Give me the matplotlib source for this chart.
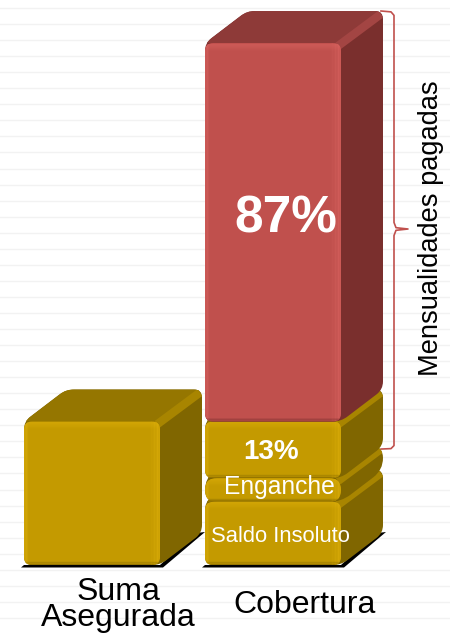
import numpy as np
import matplotlib
matplotlib.use('Agg')
import matplotlib.pyplot as plt
from matplotlib.path import Path
from matplotlib.patches import PathPatch, Polygon

plt.rcParams['font.family'] = ['Liberation Sans', 'DejaVu Sans']

categories = ['Suma\nAsegurada', 'Cobertura']
suma_value = 33
saldo_value = 14.5
enganche_value = 5.5
pct_13 = 13
pct_87 = 87

# front, top, side, highlight, edge shade, diagonal bevel
GOLD = ('#c49a00', '#957600', '#806600', '#e0b20c', '#6e5600', '#a88500')
RED = ('#c0504d', '#8e3a38', '#7a2f2d', '#dc6662', '#6e2a28', '#a34543')

# one value unit is 4.35 px high, one category step is 181 px wide
SX, SY = 181.0, 4.35
WIDTH = 136 / SX
DX, DY = 42 / SX, 32 / SY

fig = plt.figure(figsize=(4.5, 6.35), dpi=100)
ax = fig.add_axes([0, 0, 1, 1])
ax.set_xlim(-92 / SX, (450 - 92) / SX)
ax.set_ylim(-70 / SY, 565 / SY)
for s in ax.spines.values():
    s.set_visible(False)
ax.set_xticks([])
ax.set_yticks((565 - (8 + 16.05 * np.arange(39))) / SY)
ax.tick_params(length=0, labelleft=False)
ax.grid(axis='y', color='#f2f2f2', lw=1)
ax.set_axisbelow(True)


def rounded(pts, r, **kw):
    # closed polygon with quadratic corners, radius given in pixels
    pts = [np.array(p, dtype=float) for p in pts]
    scale = np.array([SX, SY])
    verts, codes = [], []
    n = len(pts)
    for i in range(n):
        p, a, b = pts[i], pts[i - 1], pts[(i + 1) % n]
        la = np.linalg.norm((a - p) * scale)
        lb = np.linalg.norm((b - p) * scale)
        ra = min(r, la / 2)
        rb = min(r, lb / 2)
        p1 = p + (a - p) * ra / la
        p2 = p + (b - p) * rb / lb
        verts.append(p1)
        codes.append(Path.MOVETO if i == 0 else Path.LINETO)
        verts += [p, p2]
        codes += [Path.CURVE3, Path.CURVE3]
    verts.append(verts[0])
    codes.append(Path.CLOSEPOLY)
    patch = PathPatch(Path(verts, codes), lw=0, **kw)
    ax.add_patch(patch)
    return patch


def block(x, y0, h, cols, z):
    front, top, side, light, shade, bevel = cols
    l, r = x - WIDTH / 2, x + WIDTH / 2
    y1 = y0 + h
    rad = 12 if h * SY < 30 else 8

    # outline of the whole block, everything behind the front face is clipped to it
    hull = rounded([(l, y0), (l, y1), (l + DX, y1 + DY), (r + DX, y1 + DY),
                    (r + DX, y0 + DY), (r, y0)], rad, fc=side, zorder=z)
    tp = Polygon([(l, y1), (l + DX, y1 + DY), (r + DX, y1 + DY), (r, y1)], closed=True,
                 fc=top, lw=0, zorder=z)
    ax.add_patch(tp)
    tp.set_clip_path(hull)

    # lighter strip along the edge between top and side
    ln, = ax.plot([r - 3 / SX, r + DX - 2 / SX], [y1 - 3 / SY, y1 + DY - 3 / SY], color=bevel,
                  lw=6, zorder=z, solid_capstyle='butt')
    ln.set_clip_path(hull)

    clip = rounded([(l, y0), (l, y1), (r, y1), (r, y0)], rad, fc=front, zorder=z + 0.1)

    # soft strips on the edges of the front face
    for i in range(7):
        a = 0.42 * (1 - i / 7)
        for xs, ys, col, w in [
            ([l, r], [y1 - (i + 0.5) / SY] * 2, light, 1),
            ([r - (i * 1.5 + 0.5) / SX] * 2, [y0, y1], light, 1.5),
            ([l + (i * 0.6 + 0.3) / SX] * 2, [y0, y1], light, 0.7),
            ([l, r], [y0 + (i * 0.6 + 0.3) / SY] * 2, shade, 0.7),
        ]:
            ln, = ax.plot(xs, ys, color=col, lw=w, alpha=a, zorder=z + 0.2, solid_capstyle='butt')
            ln.set_clip_path(clip)


def shadow(x, z):
    l, r = x - WIDTH / 2, x + WIDTH / 2
    ax.add_patch(Polygon([(l - 3 / SX, -2.5 / SY), (r + 3 / SX, -2.5 / SY),
                          (r + DX + 3 / SX, DY + 1 / SY), (r + DX - 6 / SX, DY), (r, 0), (l, 0)],
                         closed=True, fc='black', lw=0, zorder=z))


shadow(0, 2)
shadow(1, 2)
block(0, 0, suma_value, GOLD, 3)

base = 0
for value, cols, z in [(saldo_value, GOLD, 3), (enganche_value, GOLD, 4),
                       (pct_13, GOLD, 5), (pct_87, RED, 6)]:
    block(1, base, value, cols, z)
    base += value

# bracket around the paid instalments
bx = 1 + (394 - 273) / SX
tip = 1 + (408 - 273) / SX
edge = 1 + (381 - 273) / SX
b0 = saldo_value + enganche_value + DY - 0.7
b1 = saldo_value + enganche_value + pct_13 + pct_87 + DY
mid = (565 - 229) / SY
bracket_x = [edge, bx - 3 / SX, bx, bx, bx + 2 / SX, tip, bx + 2 / SX, bx, bx, bx - 3 / SX, edge]
bracket_y = [b1, b1 - 0.2, b1 - 1, mid + 1.5, mid + 0.3, mid, mid - 0.3, mid - 1.5,
             b0 + 0.8, b0 + 0.1, b0]
ax.plot(bracket_x, bracket_y, color='#c0504d', lw=1.2, zorder=2)

ax.text(1 + (286 - 273) / SX, (565 - 219) / SY, f'{pct_87}%', color='white', fontsize=37,
        fontweight='bold', ha='center', va='center', zorder=10)
ax.text(1 + (271 - 273) / SX, (565 - 452) / SY, f'{pct_13}%', color='white', fontsize=20,
        fontweight='bold', ha='center', va='center', zorder=10)
ax.text(1 + (279 - 273) / SX, (565 - 487) / SY, 'Enganche', color='white', fontsize=17.7,
        ha='center', va='center', zorder=10)
ax.text(1 + (280 - 273) / SX, (565 - 536) / SY, 'Saldo Insoluto', color='white', fontsize=15.8,
        ha='center', va='center', zorder=10)

ax.text(0 + (118 - 92) / SX, (565 - 605) / SY, categories[0], color='black', fontsize=23,
        ha='center', va='center', linespacing=0.82, zorder=10)
ax.text(1 + (305 - 273) / SX, (565 - 605) / SY, categories[1], color='black', fontsize=23, ha='center', va='center', zorder=10)
ax.text(1 + (431 - 273) / SX, (565 - 228) / SY, 'Mensualidades pagadas', color='black', fontsize=19.6,
        rotation=90, ha='center', va='center', zorder=10)

fig.savefig('out.png', dpi=100)
